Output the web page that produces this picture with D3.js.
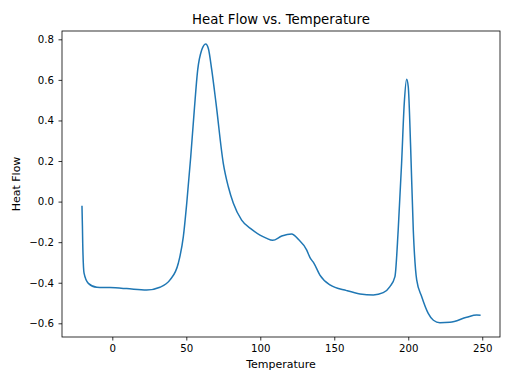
<!DOCTYPE html>
<html>
<head>
<meta charset="utf-8">
<script src="https://cdn.jsdelivr.net/npm/d3@7"></script>
<style>
  body { margin: 0; background: #fff; }
  svg text { font-family: "DejaVu Sans", sans-serif; fill: #000; }
</style>
</head>
<body>
<div class="chart"></div>
<script>
'use strict';

// values
var temperature = [-20.5, -20.2, -20, -19.1, -16.2, -10.5, -1.6, 9.7, 23.2, 32.2, 39, 44.6, 48, 50.3, 53, 55.4, 57.7, 60.4, 63.1, 64.9, 67.2, 70.1, 75, 78.4, 81.8, 87.4, 94.2, 99.8, 104, 108.4, 114.5, 121.2, 125.7, 131.4, 133.6, 136.3, 140.3, 147.1, 158.4, 167.4, 176.4, 183.1, 187.6, 191, 193.2, 195.5, 197.3, 198.9, 200, 201.6, 203.4, 205.7, 209.1, 213.5, 217, 221.4, 228.2, 239.5, 246.2, 248.9];
var heatFlow = [-0.02, -0.12, -0.205, -0.353, -0.403, -0.422, -0.424, -0.429, -0.436, -0.422, -0.386, -0.304, -0.173, -0.008, 0.221, 0.451, 0.649, 0.747, 0.777, 0.755, 0.649, 0.484, 0.189, 0.073, -0.008, -0.091, -0.137, -0.165, -0.18, -0.191, -0.170, -0.160, -0.186, -0.239, -0.276, -0.304, -0.362, -0.411, -0.439, -0.455, -0.460, -0.449, -0.419, -0.370, -0.140, 0.189, 0.484, 0.603, 0.566, 0.271, -0.140, -0.386, -0.469, -0.551, -0.585, -0.597, -0.595, -0.570, -0.559, -0.560];
var xTicks = [0, 50, 100, 150, 200, 250];
var yTicks = [-0.6, -0.4, -0.2, 0.0, 0.2, 0.4, 0.6, 0.8];

var W = 512, H = 384;
var margin = {top: 31, right: 12, bottom: 47, left: 62};
var width = W - margin.left - margin.right;
var height = H - margin.top - margin.bottom;

var svg = d3.select(".chart").append("svg")
            .attr("width", W)
            .attr("height", H);

var g = svg.append("g")
           .attr("transform", "translate(" + margin.left + "," + margin.top + ")");

var x = d3.scaleLinear().domain([-34, 262]).range([0, width]);
var y = d3.scaleLinear().domain([-0.6675, 0.841]).range([height, 0]);

var points = temperature.map(function(t, i){ return [t, heatFlow[i]]; });

var line = d3.line()
             .x(function(d){ return x(d[0]); })
             .y(function(d){ return y(d[1]); })
             .curve(d3.curveMonotoneX);

g.append("path")
 .datum(points)
 .attr("fill", "none")
 .attr("stroke", "#1f77b4")
 .attr("stroke-width", 1.5)
 .attr("stroke-linejoin", "round")
 .attr("d", line);

// axes
var xAxis = g.append("g")
             .attr("transform", "translate(0," + height + ")")
             .call(d3.axisBottom(x).tickValues(xTicks).tickSize(3.5).tickPadding(4.5).tickFormat(d3.format("d")));

var yAxis = g.append("g")
             .call(d3.axisLeft(y).tickValues(yTicks).tickSize(3.5).tickPadding(4.5)
                     .tickFormat(function(d){ return d3.format(".1f")(d).replace("-", "\u2212"); }));

[xAxis, yAxis].forEach(function(a){
      a.select(".domain").remove();
      a.selectAll("line").attr("stroke", "#000").attr("stroke-width", 0.8);
      a.selectAll("text").style("font-size", "10.2px").style("font-family", "DejaVu Sans, sans-serif");
});

// frame
g.append("rect")
 .attr("width", width)
 .attr("height", height)
 .attr("fill", "none")
 .attr("stroke", "#000")
 .attr("stroke-width", 0.8);

// labels
svg.append("text")
   .attr("x", margin.left + width / 2)
   .attr("y", 24)
   .attr("text-anchor", "middle")
   .style("font-size", "13.3px")
   .text("Heat Flow vs. Temperature");

svg.append("text")
   .attr("x", margin.left + width / 2)
   .attr("y", 368)
   .attr("text-anchor", "middle")
   .style("font-size", "11px")
   .text("Temperature");

svg.append("text")
   .attr("transform", "translate(20," + (margin.top + height / 2) + ") rotate(-90)")
   .attr("text-anchor", "middle")
   .style("font-size", "11px")
   .text("Heat Flow");
</script>
</body>
</html>
